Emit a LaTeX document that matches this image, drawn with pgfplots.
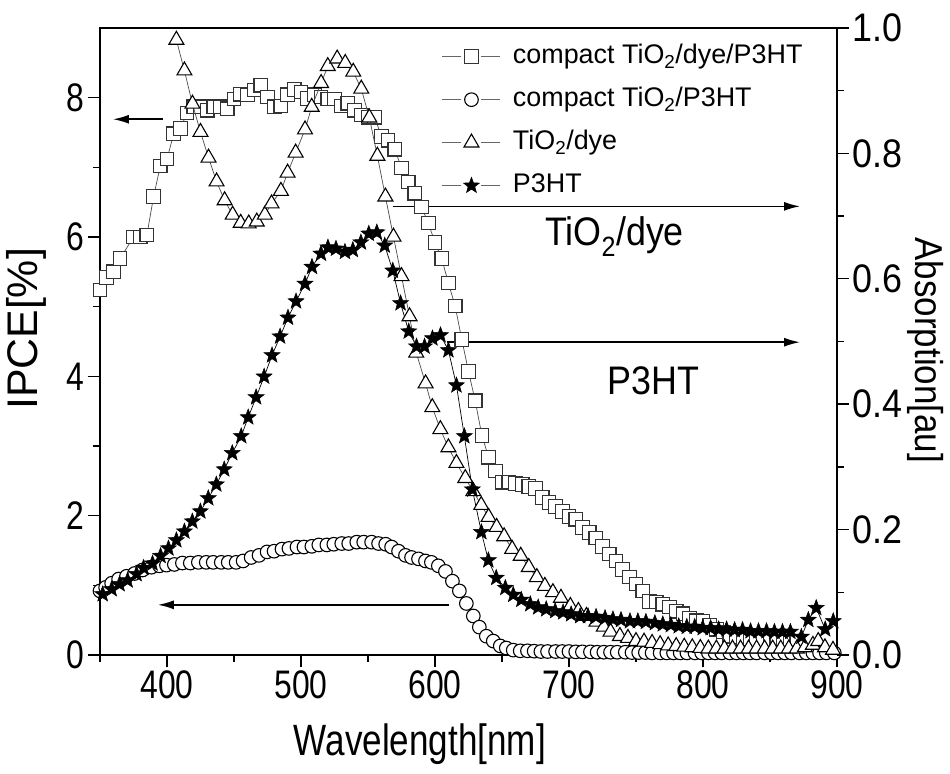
\documentclass[border=0pt]{standalone}
\usepackage{fontspec}
\setmainfont{Liberation Sans}[FakeStretch=0.9]
\newfontfamily\narrowfont{Liberation Sans}[FakeStretch=0.8]
\newfontfamily\plainfont{Liberation Sans}
\usepackage{pgfplots}
\pgfplotsset{compat=1.18}
\usepackage{pgfplotstable}
\usetikzlibrary{arrows.meta}

\pgfdeclareplotmark{fstar}{%
  \pgfpathmoveto{\pgfpointpolar{90}{\pgfplotmarksize}}%
  \pgfpathlineto{\pgfpointpolar{126}{0.42\pgfplotmarksize}}%
  \pgfpathlineto{\pgfpointpolar{162}{\pgfplotmarksize}}%
  \pgfpathlineto{\pgfpointpolar{198}{0.42\pgfplotmarksize}}%
  \pgfpathlineto{\pgfpointpolar{234}{\pgfplotmarksize}}%
  \pgfpathlineto{\pgfpointpolar{270}{0.42\pgfplotmarksize}}%
  \pgfpathlineto{\pgfpointpolar{306}{\pgfplotmarksize}}%
  \pgfpathlineto{\pgfpointpolar{342}{0.42\pgfplotmarksize}}%
  \pgfpathlineto{\pgfpointpolar{18}{\pgfplotmarksize}}%
  \pgfpathlineto{\pgfpointpolar{54}{0.42\pgfplotmarksize}}%
  \pgfpathclose
  \pgfusepathqfillstroke}

% compact TiO2/dye/P3HT : IPCE [%]
\pgfplotstableread{
x y
350 5.24
355 5.42
360 5.50
365 5.69
375 6.00
380 6.00
385 6.03
390 6.58
395 7.02
400 7.12
405 7.48
410 7.56
415 7.78
420 7.87
425 7.87
430 7.82
435 7.87
440 7.87
445 7.84
450 7.98
455 8.05
460 8.04
465 8.11
470 8.18
475 8.01
480 7.87
485 7.88
490 8.04
495 8.12
500 8.08
505 7.99
510 8.04
515 8.01
520 7.98
525 7.98
530 7.88
535 7.92
540 7.82
545 7.75
550 7.72
555 7.72
560 7.44
565 7.39
570 7.26
575 6.99
580 6.79
585 6.63
590 6.43
595 6.20
600 5.92
605 5.69
610 5.34
615 5.01
620 4.53
625 4.07
630 3.65
635 3.15
640 2.84
645 2.64
650 2.48
655 2.48
660 2.46
665 2.45
670 2.42
675 2.39
680 2.26
685 2.19
690 2.13
695 2.06
700 1.99
705 1.95
710 1.83
715 1.76
720 1.68
725 1.56
730 1.45
735 1.35
740 1.23
745 1.12
750 1.02
755 0.92
760 0.77
765 0.76
770 0.73
775 0.69
780 0.63
785 0.59
790 0.53
795 0.49
800 0.48
805 0.43
810 0.37
815 0.33
820 0.27
825 0.26
830 0.23
835 0.23
840 0.20
845 0.20
850 0.20
855 0.20
860 0.20
865 0.20
870 0.19
}\sqdata

% compact TiO2/P3HT : IPCE [%]
\pgfplotstableread{
x y
350.0 0.92
354.2 0.97
358.7 1.03
363.9 1.09
369.8 1.13
375.8 1.17
381.7 1.22
388.4 1.26
394.4 1.28
399.6 1.29
405.5 1.30
411.5 1.32
417.4 1.32
423.4 1.33
429.3 1.33
434.5 1.33
440.5 1.33
445.7 1.33
451.6 1.33
456.8 1.35
462.8 1.40
468.7 1.43
474.7 1.48
479.9 1.49
485.8 1.52
491.0 1.53
497.0 1.55
502.2 1.55
508.1 1.56
513.3 1.58
519.3 1.58
524.5 1.59
530.4 1.60
535.6 1.60
541.6 1.62
546.8 1.62
552.7 1.62
557.9 1.60
563.2 1.59
567.6 1.55
572.8 1.49
578.0 1.43
582.5 1.40
587.7 1.38
592.9 1.35
597.3 1.33
602.5 1.28
607.8 1.20
613.0 1.06
618.2 0.92
623.4 0.74
628.6 0.56
633.1 0.40
638.3 0.27
643.5 0.20
648.7 0.13
653.2 0.10
658.4 0.07
663.6 0.06
669.0 0.06
674.0 0.055
679.0 0.05
684.0 0.05
690.0 0.05
695.0 0.05
700.0 0.05
705.0 0.045
710.0 0.045
716.0 0.045
721.0 0.04
726.0 0.04
731.0 0.04
736.0 0.04
742.0 0.04
747.0 0.035
752.0 0.035
757.0 0.035
762.0 0.03
768.0 0.03
773.0 0.03
778.0 0.03
783.0 0.03
788.0 0.03
794.0 0.03
799.0 0.03
804.0 0.03
809.0 0.03
814.0 0.03
820.0 0.03
825.0 0.03
830.0 0.03
835.0 0.03
840.0 0.03
846.0 0.03
851.0 0.03
856.0 0.03
861.0 0.03
866.0 0.03
872.0 0.03
877.0 0.03
882.0 0.03
887.0 0.03
892.0 0.03
898.0 0.03
}\cidata

% TiO2/dye : absorption
\pgfplotstableread{
x y
407 0.981
413 0.932
419 0.879
425 0.834
431 0.793
437 0.755
443 0.725
449 0.702
455 0.689
461 0.688
467 0.691
473 0.702
478 0.720
485 0.740
490 0.769
496 0.801
503 0.838
508 0.874
515 0.912
520 0.939
527 0.951
533 0.944
539 0.930
545 0.903
551 0.857
557 0.796
563 0.731
569 0.667
575 0.604
581 0.540
586 0.482
593 0.433
598 0.395
604 0.360
610 0.331
616 0.306
622.6 0.282
628.6 0.261
634.5 0.239
640 0.220
646 0.204
651.6 0.189
657.6 0.169
664 0.158
670 0.140
676 0.124
682 0.110
688 0.100
694 0.091
701 0.078
707 0.070
713 0.062
720.5 0.053
726 0.045
731 0.037
738 0.030
744 0.027
750 0.022
756 0.021
762 0.019
768 0.017
774 0.015
780 0.014
786 0.013
792 0.012
798 0.011
804 0.010
810 0.010
816 0.010
822 0.010
828 0.010
834 0.010
840 0.010
846 0.010
852 0.010
858 0.010
864 0.010
870 0.010
876 0.012
882 0.016
886 0.022
891 0.012
897 0.008
}\trdata

% P3HT : absorption
\pgfplotstableread{
x y
352.0 0.097
358.7 0.105
364.6 0.113
370.6 0.119
377.3 0.129
382.5 0.139
389.2 0.146
395.2 0.158
401.1 0.170
407.0 0.183
413.0 0.197
418.9 0.213
424.9 0.229
430.8 0.250
436.8 0.272
442.7 0.296
448.7 0.322
455.4 0.349
460.6 0.379
466.5 0.411
472.5 0.444
478.4 0.478
484.4 0.508
490.3 0.538
496.3 0.564
503.0 0.592
508.2 0.619
514.9 0.640
520.1 0.650
526.1 0.648
532.8 0.643
538.7 0.646
544.7 0.658
550.6 0.672
556.6 0.674
562.5 0.653
568.5 0.613
574.3 0.561
580.4 0.516
586.2 0.492
592.2 0.492
598.1 0.505
604.1 0.510
610.0 0.486
616.0 0.430
621.9 0.349
627.9 0.264
634.6 0.196
639.8 0.151
645.7 0.123
652.5 0.107
658.4 0.096
664.4 0.088
671.1 0.081
677.0 0.076
683.0 0.073
689.7 0.070
695.6 0.068
701.6 0.065
708.3 0.062
714.2 0.062
720.2 0.061
726.9 0.059
732.8 0.057
738.8 0.056
745.5 0.054
751.4 0.054
757.4 0.053
764.1 0.051
770.0 0.049
776.0 0.048
781.9 0.046
787.9 0.045
793.8 0.045
799.8 0.043
805.7 0.043
811.7 0.041
817.6 0.041
823.6 0.040
829.5 0.040
835.5 0.038
841.4 0.038
847.4 0.038
853.3 0.037
859.3 0.037
865.2 0.037
873.4 0.029
878.6 0.056
884.5 0.075
891.2 0.041
897.2 0.054
}\stdata

\pgfplotsset{
  sqstyle/.style={black!70, line width=0.7bp, mark=square*, mark size=6.8bp,
    mark options={solid, fill=white, draw=black!80, line width=1.2bp}},
  cistyle/.style={black!70, line width=0.7bp, mark=*, mark size=6.8bp,
    mark options={solid, fill=white, draw=black, line width=1.1bp}},
  trstyle/.style={black!70, line width=0.7bp, mark=triangle*, mark size=8.6bp,
    mark options={solid, fill=white, draw=black, line width=1.1bp}},
  ststyle/.style={black, line width=0.7bp, mark=fstar, mark size=8.4bp,
    mark options={solid, fill=black, draw=black, line width=0.5bp}},
  commonax/.style={
    width=737bp, height=627bp, scale only axis,
    xmin=350, xmax=900,
    axis line style={line width=1.6bp},
    tick style={line width=1.4bp, black},
    major tick length=12bp, minor tick length=7bp,
    tick align=outside,
    /pgf/number format/assume math mode=true,
    ticklabel style={font=\narrowfont\fontsize{40}{46}\selectfont},
    label style={font=\narrowfont\fontsize{44}{50}\selectfont},
    clip=true,
  },
}

\begin{document}
\begin{tikzpicture}
\begin{axis}[commonax,
  ymin=0, ymax=9,
  xtick={400,500,600,700,800,900},
  minor xtick={350,450,550,650,750,850},
  ytick={0,2,4,6,8},
  minor ytick={1,3,5,7},
  xtick pos=bottom, ytick pos=left,
  xlabel={Wavelength[nm]}, ylabel={IPCE[\%]},
  xlabel style={at={(axis description cs:0.434,-0.143)}, anchor=center},
  ylabel style={at={(axis description cs:-0.100,0.52)}, anchor=center,
    font=\plainfont\fontsize{43}{50}\selectfont},
]
\addplot[cistyle] table {\cidata};
\addplot[sqstyle] table {\sqdata};
\draw[-{Latex[length=16bp,width=9bp]}, line width=1.6bp] (axis cs:397,7.69) -- (axis cs:359.7,7.69);
\draw[-{Latex[length=16bp,width=9bp]}, line width=1.6bp] (axis cs:568.4,6.44) -- (axis cs:872.4,6.44);
\draw[-{Latex[length=16bp,width=9bp]}, line width=1.6bp] (axis cs:608.6,4.49) -- (axis cs:872.4,4.49);
\draw[-{Latex[length=16bp,width=9bp]}, line width=1.6bp] (axis cs:610.1,0.72) -- (axis cs:393.2,0.72);
\node[font=\fontsize{40}{46}\selectfont] at (axis cs:734,6.0) {TiO\textsubscript{2}/dye};
\node[font=\fontsize{40}{46}\selectfont] at (axis cs:763,3.93) {P3HT};
\end{axis}
\begin{axis}[commonax,
  ymin=0, ymax=1,
  axis y line*=right, axis x line=none,
  ytick={0,0.2,0.4,0.6,0.8,1.0},
  minor ytick={0.1,0.3,0.5,0.7,0.9},
  yticklabel style={font=\fontsize{40}{46}\selectfont,
    /pgf/number format/.cd, fixed, fixed zerofill, precision=1},
  ylabel={Absorption[au]},
  ylabel style={at={(axis description cs:1.120,0.486)}, anchor=center, rotate=-180,
    font=\fontsize{39}{46}\selectfont},
  legend image code/.code={%
    \draw[mark=none, black!60, line width=1bp] (0bp,0bp) -- (19bp,0bp) (39bp,0bp) -- (58bp,0bp);
    \draw plot coordinates {(29bp,0bp)};},
  legend style={at={(0.464,0.975)}, anchor=north west, draw=none, fill=none,
    inner sep=0pt, outer sep=0pt, column sep=12bp, row sep=17bp,
    font=\plainfont\fontsize{27}{32}\selectfont,
    nodes={inner sep=0pt, text height=20bp, text depth=6bp}},
  legend cell align=left,
]
\addlegendimage{sqstyle}
\addlegendentry{compact TiO\textsubscript{2}/dye/P3HT}
\addlegendimage{cistyle}
\addlegendentry{compact TiO\textsubscript{2}/P3HT}
\addplot[trstyle] table {\trdata};
\addlegendentry{TiO\textsubscript{2}/dye}
\addplot[ststyle] table {\stdata};
\addlegendentry{P3HT}
\end{axis}
\pgfresetboundingbox
\path (-100bp,-119bp) rectangle (850bp,655bp);
\end{tikzpicture}
\end{document}
